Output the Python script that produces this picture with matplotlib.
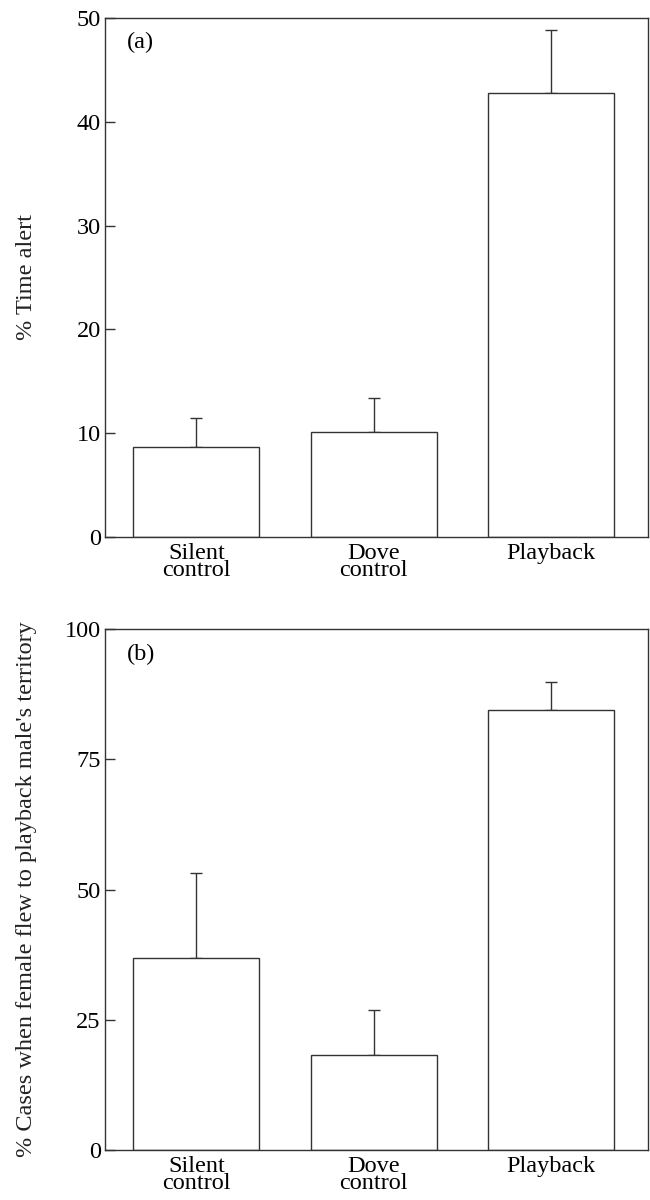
import numpy as np
import matplotlib
matplotlib.use('Agg')
import matplotlib.pyplot as plt

# Data
groups = ['Silent\ncontrol', 'Dove\ncontrol', 'Playback']
alert_mean = [8.7, 10.1, 42.8]
alert_err = [2.8, 3.3, 6.0]
flew_mean = [36.8, 18.2, 84.4]
flew_err = [16.4, 8.7, 5.4]

plt.rcParams['font.family'] = ['Liberation Serif', 'DejaVu Serif']
line_col = '#333333'
fs = 17.5

fig = plt.figure(figsize=(6.5, 12), dpi=100)
ax_a = fig.add_axes([0.1615, 0.5525, 0.835, 0.4325])
ax_b = fig.add_axes([0.1615, 0.0417, 0.835, 0.434])


def draw_panel(ax, means, errs, ymax, yticks, ylabel, tag):
    x = np.arange(len(groups))
    ax.bar(x, means, width=0.71, color='white', edgecolor=line_col, linewidth=1.0, zorder=2)
    ax.errorbar(x, means, yerr=[np.zeros(len(errs)), errs], fmt='none',
                ecolor=line_col, elinewidth=1.0, capsize=4.5, capthick=1.0, zorder=1)
    ax.set_xlim(-0.515, 2.544)
    ax.set_ylim(0, ymax)
    ax.set_yticks(yticks)
    ax.set_xticks(x)
    ax.set_xticklabels(groups, fontsize=fs, linespacing=0.8)
    ax.tick_params(axis='x', length=0, pad=4)
    ax.tick_params(axis='y', direction='in', length=7, width=1.0, color=line_col,
                   labelsize=fs, pad=3)
    for s in ax.spines.values():
        s.set_color(line_col)
        s.set_linewidth(1.0)
    ax.set_ylabel(ylabel, fontsize=fs, color='#222222')
    ax.yaxis.set_label_coords(-0.125, 0.5)
    ax.text(0.04, 0.952, tag, transform=ax.transAxes, fontsize=fs, ha='left', va='center')


draw_panel(ax_a, alert_mean, alert_err, 50, [0, 10, 20, 30, 40, 50], '% Time alert', '(a)')
draw_panel(ax_b, flew_mean, flew_err, 100, [0, 25, 50, 75, 100],
           "% Cases when female flew to playback male's territory", '(b)')

fig.savefig('out.png', dpi=100)
